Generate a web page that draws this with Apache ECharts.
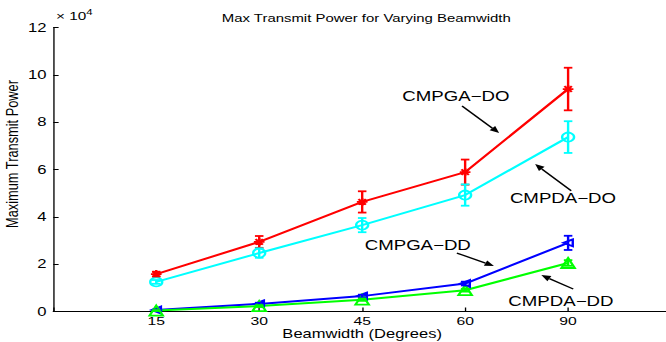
<!DOCTYPE html>
<html><head><meta charset="utf-8">
<script src="https://cdn.jsdelivr.net/npm/echarts@6/dist/echarts.min.js"></script>
<style>
html,body{margin:0;padding:0;background:#fff;overflow:hidden;width:666px;height:342px;}
#c{width:500px;height:342px;transform:scale(1.332,1);transform-origin:0 0;}
</style></head><body><div id="c"></div>
<script>
// ---- data (values in units of 10^4) ----
const categories = ['15', '30', '45', '60', '90'];
const positions = [1, 2, 3, 4, 5];
const cmpgaDO = [1.58, 2.94, 4.63, 5.89, 9.40];
const cmpgaDOErr = [0.10, 0.25, 0.45, 0.53, 0.90];
const cmpdaDO = [1.25, 2.47, 3.65, 4.92, 7.37];
const cmpdaDOErr = [0.08, 0.20, 0.30, 0.45, 0.67];
const cmpgaDD = [0.06, 0.32, 0.65, 1.18, 2.90];
const cmpgaDDErr = [0.02, 0.05, 0.06, 0.08, 0.30];
const cmpdaDD = [0.04, 0.23, 0.50, 0.90, 2.05];
const cmpdaDDErr = [0.02, 0.04, 0.05, 0.06, 0.12];
const yTicks = [0, 2, 4, 6, 8, 10, 12];
// annotation: label, text anchor [x,y], arrow tail [x,y], arrow head [x,y] (data coords)
const annotations = [
  ['CMPGA\u2212DO', [3.91, 9.10], [3.97, 8.68], [4.33, 7.54]],
  ['CMPDA\u2212DO', [4.95, 4.80], [5.03, 5.10], [4.68, 6.23]],
  ['CMPGA\u2212DD', [3.54, 2.82], [3.92, 2.47], [4.28, 1.92]],
  ['CMPDA\u2212DD', [4.93, 0.44], [5.05, 0.95], [4.74, 1.54]]
];

const FONT = 'Liberation Sans, Arial, Helvetica, sans-serif';
const chart = echarts.init(document.getElementById('c'), null, {renderer: 'svg'});

function pairs(vals){ return positions.map((p,i)=>[p, vals[i]]); }
function errData(vals, errs){ return positions.map((p,i)=>[p, vals[i]-errs[i], vals[i]+errs[i]]); }

const STAR = 'path://M0,5L10,5M5,0L5,10M1.5,1.5L8.5,8.5M8.5,1.5L1.5,8.5';
const TRI_LEFT = 'path://M10,0L0,5L10,10Z';
const TRI_UP = 'path://M5,0L10,10L0,10Z';

function lineSeries(name, vals, color, symbol, size){
  return {
    name, type: 'line', data: pairs(vals), symbol, symbolSize: size,
    lineStyle: {color, width: 2}, z: 3,
    itemStyle: {color: 'rgba(0,0,0,0)', borderColor: color, borderWidth: 1.8},
    emphasis: {disabled: true}, animation: false
  };
}
function errSeries(vals, errs, color){
  return {
    type: 'custom', data: errData(vals, errs), z: 4, animation: false, silent: true,
    encode: {x: 0, y: [1, 2]},
    renderItem: function(params, api){
      const lo = api.coord([api.value(0), api.value(1)]);
      const hi = api.coord([api.value(0), api.value(2)]);
      const w = 3.2;
      const st = {stroke: color, lineWidth: 1.8, fill: null};
      return {type: 'group', children: [
        {type: 'line', shape: {x1: lo[0], y1: lo[1], x2: hi[0], y2: hi[1]}, style: st},
        {type: 'line', shape: {x1: lo[0]-w, y1: lo[1], x2: lo[0]+w, y2: lo[1]}, style: st},
        {type: 'line', shape: {x1: hi[0]-w, y1: hi[1], x2: hi[0]+w, y2: hi[1]}, style: st}
      ]};
    }
  };
}

chart.setOption({
  animation: false,
  title: {
    text: 'Max Transmit Power for Varying Beamwidth',
    left: 270, top: 8, textAlign: 'center',
    textStyle: {fontFamily: FONT, fontSize: 11.2, fontWeight: 'normal', color: '#000'}
  },
  grid: {left: 40, top: 27.5, width: 463.8, height: 284, containLabel: false, outerBoundsMode: 'none'},
  xAxis: {
    type: 'value', min: 0, max: 6, interval: 1,
    axisLine: {lineStyle: {color: '#000', width: 1}},
    axisTick: {inside: true, length: 4, lineStyle: {color: '#000'}},
    splitLine: {show: false},
    axisLabel: {
      fontFamily: FONT, fontSize: 11.8, color: '#000', margin: 3,
      formatter: function(v){ const i = positions.indexOf(v); return i >= 0 ? categories[i] : ''; }
    }
  },
  yAxis: {
    type: 'value', min: yTicks[0], max: yTicks[yTicks.length-1], interval: 2,
    axisLine: {show: true, lineStyle: {color: '#000', width: 1}},
    axisTick: {show: true, inside: true, length: 4, lineStyle: {color: '#000'}},
    splitLine: {show: false},
    axisLabel: {fontFamily: FONT, fontSize: 12.5, color: '#000', margin: 5}
  },
  series: [
    lineSeries('CMPGA-DO', cmpgaDO, '#ff0000', STAR, 8),
    lineSeries('CMPDA-DO', cmpdaDO, '#00ffff', 'circle', 9),
    lineSeries('CMPGA-DD', cmpgaDD, '#0000ff', TRI_LEFT, 7),
    lineSeries('CMPDA-DD', cmpdaDD, '#00ff00', TRI_UP, 10),
    errSeries(cmpgaDO, cmpgaDOErr, '#ff0000'),
    errSeries(cmpdaDO, cmpdaDOErr, '#00ffff'),
    errSeries(cmpgaDD, cmpgaDDErr, '#0000ff'),
    errSeries(cmpdaDD, cmpdaDDErr, '#00ff00')
  ]
});

// annotations and extra texts
const g = [];
annotations.forEach(function(a){
  const t = chart.convertToPixel({gridIndex: 0}, a[1]);
  const p0 = chart.convertToPixel({gridIndex: 0}, a[2]);
  const p1 = chart.convertToPixel({gridIndex: 0}, a[3]);
  g.push({type: 'text', x: t[0], y: t[1], style: {text: a[0], fontFamily: FONT, fontSize: 14, fill: '#000', textAlign: 'center', textVerticalAlign: 'middle'}});
  const dx = p1[0]-p0[0], dy = p1[1]-p0[1];
  const L = Math.sqrt(dx*dx+dy*dy), ux = dx/L, uy = dy/L;
  const hl = 7, hw = 3;
  const bx = p1[0]-ux*hl, by = p1[1]-uy*hl;
  g.push({type: 'line', shape: {x1: p0[0], y1: p0[1], x2: bx, y2: by}, style: {stroke: '#000', lineWidth: 1.3}});
  g.push({type: 'polygon', shape: {points: [[p1[0], p1[1]], [bx-uy*hw, by+ux*hw], [bx+uy*hw, by-ux*hw]]}, style: {fill: '#000'}});
});
g.push({type: 'text', x: 42, y: 24, style: {
  text: '\u00d7 10{s|4}', fontFamily: FONT, fontSize: 11.5, fill: '#000', textVerticalAlign: 'bottom',
  rich: {s: {fontFamily: FONT, fontSize: 8.5, fill: '#000', padding: [0, 0, 7, 0]}}
}});
g.push({type: 'text', x: 9, y: 154, rotation: Math.PI/2, style: {
  text: 'Maximum Transmit Power', fontFamily: FONT, fontSize: 12.8, fill: '#000',
  textAlign: 'center', textVerticalAlign: 'middle'
}});
g.push({type: 'text', x: 40 + 463.8/2, y: 333.5, style: {
  text: 'Beamwidth (Degrees)', fontFamily: FONT, fontSize: 12.4, fill: '#000',
  textAlign: 'center', textVerticalAlign: 'middle'
}});
chart.setOption({graphic: g});
</script></body></html>
